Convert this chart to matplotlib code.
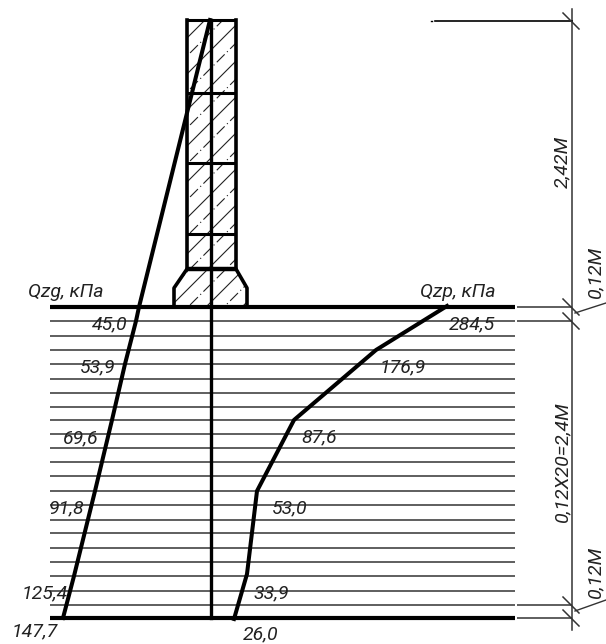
import matplotlib
matplotlib.use("Agg")
import matplotlib.pyplot as plt
import numpy as np
from matplotlib.patches import Polygon

zg_x = [210, 139, 136, 125, 112, 95, 74, 63]
zg_y = [20, 307, 321, 364, 420, 491, 576, 618]
zg_labels = ["45,0", "53,9", "69,6", "91,8", "125,4", "147,7"]
zg_label_x = [92, 80, 63, 49, 22, 12]
zg_label_y = [329, 372, 443, 513, 598, 636]

zp_x = [447, 376, 294, 257, 247, 234]
zp_y = [306, 350, 420, 491, 574, 619]
zp_labels = ["284,5", "176,9", "87,6", "53,0", "33,9", "26,0"]
zp_label_x = [449, 380, 301, 272, 254, 243]
zp_label_y = [329, 372, 442, 513, 598, 639]

layer_y = [321, 335.7, 350, 364, 378.5, 393, 407, 420, 434, 448, 462, 476, 490.7,
           505, 520, 533, 548, 562, 576, 591, 605]
top_y = 307
bottom_y = 618
dim_ticks = [21, 307, 321, 605, 618]
column_rows = [20, 93, 163, 234, 269]

fig = plt.figure(figsize=(6.06, 6.44), dpi=100)
ax = fig.add_axes([0, 0, 1, 1])
ax.set_xlim(0, 606)
ax.set_ylim(644, 0)
ax.axis("off")

font = dict(family=["Roboto", "Liberation Sans", "DejaVu Sans"], weight="normal",
            style="italic", color="#222222", fontsize=14, zorder=5)

# layers
ax.hlines(layer_y, 50, 515, color="#333333", lw=1.1, zorder=1)
ax.hlines([top_y, bottom_y], 50, 515, color="black", lw=3, zorder=2)

# column and footing outline
body = Polygon([(187, 20), (236, 20), (236, 269), (247, 288), (247, 307),
                (174, 307), (174, 288), (187, 269)], closed=True, fill=False,
               edgecolor="none")
ax.add_patch(body)
for i, c in enumerate(np.arange(207, 560, 18)):
    ln, = ax.plot([150, 290], [c - 150, c - 290], color="#222222", lw=0.8,
                  ls="-" if i % 2 else (0, (10, 3, 1, 3)), zorder=1)
    ln.set_clip_path(body)

ax.plot([187, 187], [20, 269], color="black", lw=2.6, zorder=3)
ax.plot([236, 236], [20, 269], color="black", lw=2.6, zorder=3)
ax.hlines(column_rows[:-1], 187, 236, color="black", lw=2.2, zorder=3)
ax.hlines(column_rows[-1], 187, 236, color="black", lw=3.2, zorder=3)
ax.plot([187, 174, 174], [269, 288, 307], color="black", lw=2.6, zorder=3)
ax.plot([236, 247, 247], [269, 288, 307], color="black", lw=2.6, zorder=3)
ax.plot([210.5, 210.5], [20, 618], color="black", lw=2.4, zorder=3)

# stress curves
ax.plot(zg_x, zg_y, color="black", lw=2.9, zorder=4)
ax.plot(zp_x, zp_y, color="black", lw=2.9, zorder=4)

# dimension line
ax.plot([572, 572], [9, 630], color="#333333", lw=1.1)
ax.plot([435, 572], [21, 21], color="black", lw=1.2)
ax.plot([431, 432], [21, 21], color="black", lw=1)
ax.hlines([307, 321, 605, 618], 517, 572, color="#333333", lw=1.1)
for y in dim_ticks:
    ax.plot([563, 579], [y - 8, y + 8], color="#333333", lw=1.1)
ax.plot([575, 606], [313, 303], color="#333333", lw=1)
ax.plot([575, 606], [611, 600], color="#333333", lw=1)

# text
ax.text(28, 297, "Qzg, кПа", ha="left", va="baseline", **font)
ax.text(420, 297, "Qzp, кПа", ha="left", va="baseline", **font)
for x, y, s in zip(zg_label_x, zg_label_y, zg_labels):
    ax.text(x, y, s, ha="left", va="baseline", **font)
for x, y, s in zip(zp_label_x, zp_label_y, zp_labels):
    ax.text(x, y, s, ha="left", va="baseline", **font)
ax.text(562, 162, "2,42М", rotation=90, ha="center", va="center", **font)
ax.text(595, 272, "0,12М", rotation=90, ha="center", va="center", **font)
ax.text(562, 462, "0,12Х20=2,4М", rotation=90, ha="center", va="center", **font)
ax.text(595, 572, "0,12М", rotation=90, ha="center", va="center", **font)

fig.savefig("out.png", dpi=100)
